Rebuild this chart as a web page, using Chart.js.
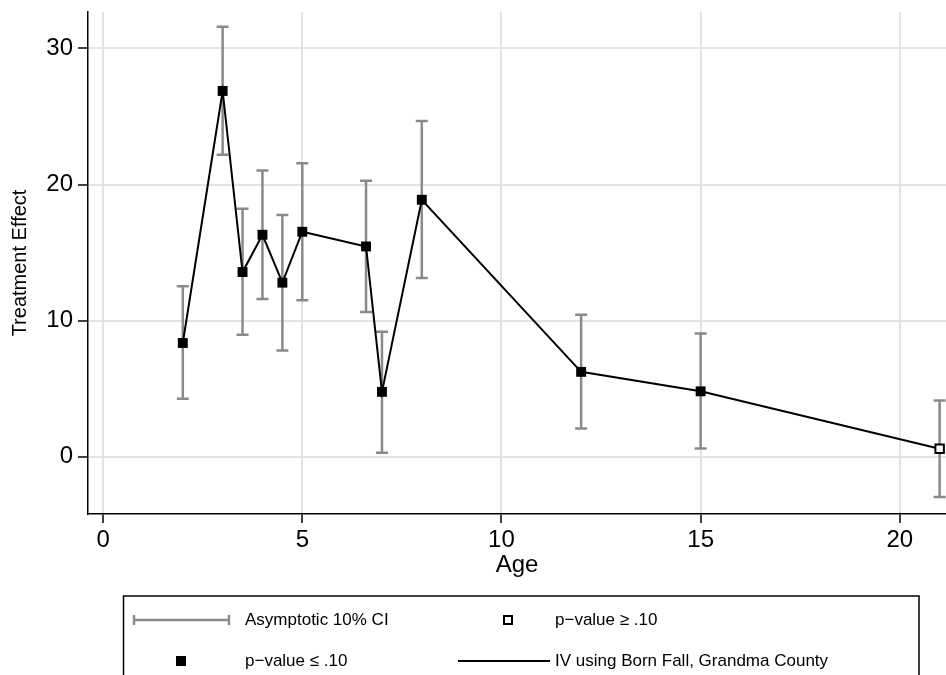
<!DOCTYPE html>
<html>
<head>
<meta charset="utf-8">
<script src="https://cdn.jsdelivr.net/npm/chart.js@4"></script>
<style>
  html, body { margin: 0; padding: 0; background: #fff; }
  #wrap { width: 946px; height: 675px; }
</style>
</head>
<body>
<div id="wrap"><canvas id="effectChart" width="946" height="675"></canvas></div>
<script>
// Treatment effect by age, with 10% confidence intervals
const ages      = [2, 3, 3.5, 4, 4.5, 5, 6.6, 7, 8, 12, 15, 21];
const effects   = [8.36, 26.87, 13.57, 16.31, 12.79, 16.53, 15.45, 4.77, 18.88, 6.24, 4.81, 0.59];
const ciLow     = [4.26, 22.18, 8.97, 11.59, 7.80, 11.49, 10.64, 0.29, 13.13, 2.08, 0.61, -2.96];
const ciHigh    = [12.52, 31.59, 18.22, 21.03, 17.76, 21.57, 20.27, 9.19, 24.67, 10.44, 9.05, 4.13];
const pBelow10  = [true, true, true, true, true, true, true, true, true, true, true, false];

const xTicks = [0, 5, 10, 15, 20];
const yTicks = [0, 10, 20, 30];

const FONT = '"Liberation Sans", Arial, Helvetica, sans-serif';
const CI_COLOR = '#8a8a8a';
const GRID_COLOR = '#e3e3e3';

// vertical error bars with caps, drawn under the line
const ciBars = {
    id: 'ciBars',
    beforeDatasetsDraw(chart) {
        const ctx = chart.ctx;
        const xs = chart.scales.x, ys = chart.scales.y;
        ctx.save();
        ctx.strokeStyle = CI_COLOR;
        ctx.lineWidth = 2.5;
        ages.forEach((a, i) => {
            const px = xs.getPixelForValue(a);
            const top = ys.getPixelForValue(ciHigh[i]);
            const bot = ys.getPixelForValue(ciLow[i]);
            ctx.beginPath();
            ctx.moveTo(px, top); ctx.lineTo(px, bot);
            ctx.moveTo(px - 6, top); ctx.lineTo(px + 6, top);
            ctx.moveTo(px - 6, bot); ctx.lineTo(px + 6, bot);
            ctx.stroke();
        });
        ctx.restore();
    }
};

// boxed legend under the plot
const keyBox = {
    id: 'keyBox',
    afterDraw(chart) {
        const ctx = chart.ctx;
        ctx.save();

        // frame runs off the bottom edge
        ctx.strokeStyle = '#000';
        ctx.lineWidth = 1.5;
        ctx.strokeRect(123.5, 596, 795.5, 120);

        const row1 = 620, row2 = 661;
        ctx.strokeStyle = CI_COLOR;
        ctx.lineWidth = 2.5;
        ctx.beginPath();
        ctx.moveTo(134, row1); ctx.lineTo(229, row1);
        ctx.moveTo(134, row1 - 5); ctx.lineTo(134, row1 + 5);
        ctx.moveTo(229, row1 - 5); ctx.lineTo(229, row1 + 5);
        ctx.stroke();

        ctx.fillStyle = '#000';
        ctx.fillRect(176, row2 - 5, 10, 10);

        ctx.fillStyle = '#fff';
        ctx.strokeStyle = '#000';
        ctx.lineWidth = 2;
        ctx.fillRect(504, row1 - 4, 8, 8);
        ctx.strokeRect(504, row1 - 4, 8, 8);

        ctx.lineWidth = 2;
        ctx.beginPath();
        ctx.moveTo(458, row2); ctx.lineTo(550, row2);
        ctx.stroke();

        ctx.fillStyle = '#000';
        ctx.font = '17px ' + FONT;
        ctx.textAlign = 'left';
        ctx.textBaseline = 'middle';
        ctx.fillText('Asymptotic 10% CI', 245, row1);
        ctx.fillText('p\u2212value \u2264 .10', 245, row2);
        ctx.fillText('p\u2212value \u2265 .10', 555, row1);
        ctx.fillText('IV using Born Fall, Grandma County', 555, row2);
        ctx.restore();
    }
};

new Chart(document.getElementById('effectChart'), {
    type: 'line',
    data: {
        datasets: [{
            label: 'IV using Born Fall, Grandma County',
            data: ages.map((a, i) => ({ x: a, y: effects[i] })),
            borderColor: '#000',
            borderWidth: 2,
            tension: 0,
            pointStyle: 'rect',
            pointRadius: pBelow10.map(s => s ? 7 : 6),
            pointBorderWidth: pBelow10.map(s => s ? 0 : 2),
            pointBackgroundColor: pBelow10.map(s => s ? '#000' : '#fff'),
            pointBorderColor: '#000'
        }]
    },
    options: {
        responsive: false,
        animation: false,
        layout: { autoPadding: false, padding: { top: 12, right: 0, bottom: 95, left: 0 } },
        plugins: {
            legend: { display: false },
            tooltip: { enabled: false }
        },
        scales: {
            x: {
                type: 'linear',
                min: -0.38,
                max: 21.16,
                afterBuildTicks: s => { s.ticks = xTicks.map(v => ({ value: v })); },
                afterFit: s => { s.height = 66; s.paddingLeft = 0; s.paddingRight = 0; },
                grid: { color: GRID_COLOR, lineWidth: 2, tickColor: '#000', tickLength: 9, tickWidth: 1.5 },
                border: { color: '#000', width: 1.5 },
                ticks: { color: '#000', font: { family: FONT, size: 24 }, padding: 3, maxRotation: 0 },
                title: { display: true, text: 'Age', color: '#000', font: { family: FONT, size: 24 }, padding: 0 }
            },
            y: {
                type: 'linear',
                min: -4.2,
                max: 32.67,
                afterBuildTicks: s => { s.ticks = yTicks.map(v => ({ value: v })); },
                afterFit: s => { s.width = 88; s.paddingTop = 0; s.paddingBottom = 0; },
                grid: { color: GRID_COLOR, lineWidth: 2, tickColor: '#000', tickLength: 10, tickWidth: 1.5 },
                border: { color: '#000', width: 1.5 },
                ticks: { color: '#000', font: { family: FONT, size: 24 }, padding: 5 },
                title: { display: true, text: 'Treatment Effect', color: '#000', font: { family: FONT, size: 20 }, padding: { top: 8, bottom: 0 } }
            }
        }
    },
    plugins: [ciBars, keyBox]
});
</script>
</body>
</html>
